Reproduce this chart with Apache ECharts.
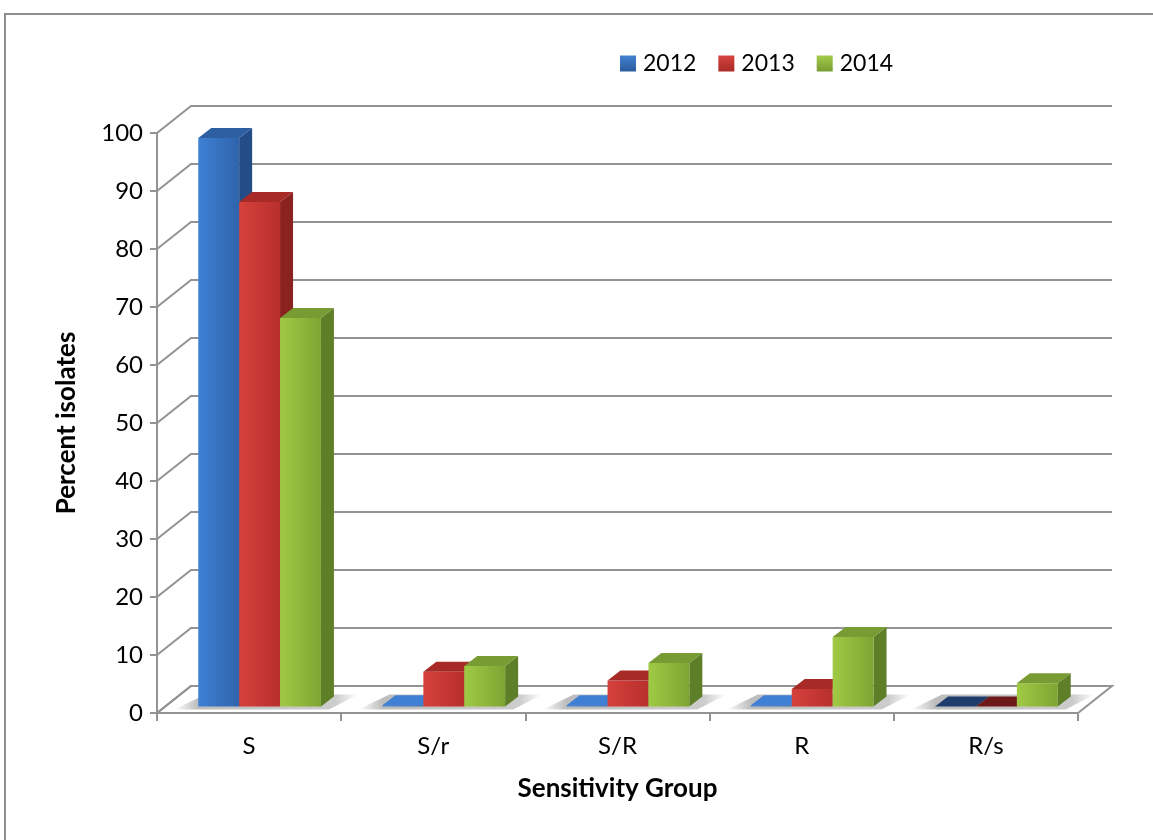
<!DOCTYPE html>
<html>
<head>
<meta charset="utf-8">
<script src="https://cdn.jsdelivr.net/npm/echarts@6/dist/echarts.min.js"></script>
<style>
  html, body { margin: 0; padding: 0; background: #fff; }
  #chart { width: 1153px; height: 840px; }
</style>
</head>
<body>
<div id="chart"></div>
<script>
// Sensitivity groups and percent of isolates per year
const categories = ['S', 'S/r', 'S/R', 'R', 'R/s'];
const years = ['2012', '2013', '2014'];
const pct2012 = [98, 0.2, 0.2, 0.2, 0];
const pct2013 = [87, 6, 4.5, 3, 0];
const pct2014 = [67, 7, 7.5, 12, 4];
const yTicks = [0, 10, 20, 30, 40, 50, 60, 70, 80, 90, 100];

// Oblique 3D projection offsets (pixels)
const WALL_DX = 34, WALL_DY = -27;      // full floor depth
const BAR_SHIFT_X = 10.5, BAR_LIFT = 6.5; // bars sit slightly back on the floor
const BAR_DX = 13, BAR_DY = -10;        // bar depth
const BAR_FRAC = 0.222;                 // bar width as fraction of category band

const FONT = 'Lato, "Open Sans", sans-serif';
const GRID_COLOR = '#939393';

const palette = [
  { front: ['#3f80d4', '#2e64ac'], top: '#2d5fa2', side: '#244d87', zero: '#1f3d6c', legend: ['#4282d2', '#2a5b9c'] },
  { front: ['#d6413c', '#b72f2c'], top: '#a82a27', side: '#8a2220', zero: '#6d1917', legend: ['#d8443f', '#a82b28'] },
  { front: ['#a0ca44', '#7ea533'], top: '#789b33', side: '#5e7e27', zero: '#4c6620', legend: ['#a3cb49', '#789c33'] }
];

function lin(x0, y0, x1, y1, c0, c1) {
  return new echarts.graphic.LinearGradient(x0, y0, x1, y1, [
    { offset: 0, color: c0 }, { offset: 1, color: c1 }
  ]);
}

// Floor of the 3D plot area
function renderFloor(params, api) {
  const cs = params.coordSys;
  const y0 = api.coord([0, 0])[1];
  const l = cs.x, r = cs.x + cs.width;
  return {
    type: 'polygon',
    shape: { points: [[l, y0], [r, y0], [r + WALL_DX, y0 + WALL_DY], [l + WALL_DX, y0 + WALL_DY]] },
    style: { fill: '#ffffff', stroke: GRID_COLOR, lineWidth: 2 },
    z2: 0
  };
}

// Side-wall and back-wall gridlines, one per tick value
function renderGridline(params, api) {
  const cs = params.coordSys;
  const y = api.coord([0, api.value(1)])[1];
  const l = cs.x, r = cs.x + cs.width;
  return {
    type: 'polyline',
    shape: { points: [[l, y], [l + WALL_DX, y + WALL_DY], [r + WALL_DX, y + WALL_DY]] },
    style: { stroke: GRID_COLOR, lineWidth: 2, fill: null },
    z2: 1
  };
}

// Soft floor shadow under each group of bars
function renderShadow(params, api) {
  const ci = api.value(0);
  const base = api.coord([ci, 0]);
  const band = api.size([1, 0])[0];
  const bw = band * BAR_FRAC;
  const xl = base[0] + BAR_SHIFT_X - 1.5 * bw;
  const xr = xl + 3 * bw;
  const yb = base[1] - BAR_LIFT;
  const pts = [
    [xl - 24, yb + 3], [xr + 8, yb + 3],
    [xr + BAR_DX + 24, yb + BAR_DY - 2], [xl + BAR_DX - 6, yb + BAR_DY - 2]
  ];
  return {
    type: 'polygon',
    shape: { points: pts },
    style: {
      fill: new echarts.graphic.LinearGradient(0, 0, 1, 0, [
        { offset: 0, color: 'rgba(0,0,0,0)' },
        { offset: 0.13, color: 'rgba(0,0,0,0.26)' },
        { offset: 0.88, color: 'rgba(0,0,0,0.2)' },
        { offset: 1, color: 'rgba(0,0,0,0)' }
      ])
    },
    z2: 2
  };
}

// 3D box for one bar: front face, top face and right side face
function makeBarRenderer(k) {
  const c = palette[k];
  return function (params, api) {
    const ci = api.value(0);
    const v = api.value(1);
    const base = api.coord([ci, 0]);
    const top = api.coord([ci, v]);
    const band = api.size([1, 0])[0];
    const bw = band * BAR_FRAC;
    const x0 = base[0] + BAR_SHIFT_X + (k - 1.5) * bw;
    const x1 = x0 + bw;
    const yb = base[1] - BAR_LIFT;
    const yt = top[1] - BAR_LIFT;
    const topFace = {
      type: 'polygon',
      shape: { points: [[x0, yt], [x1, yt], [x1 + BAR_DX, yt + BAR_DY], [x0 + BAR_DX, yt + BAR_DY]] },
      style: { fill: v > 0 ? (v < 0.5 ? c.front[0] : c.top) : c.zero }
    };
    if (v <= 0) {
      return { type: 'group', children: [topFace] };
    }
    return {
      type: 'group',
      children: [
        {
          type: 'polygon',
          shape: { points: [[x1, yt], [x1, yb], [x1 + BAR_DX, yb + BAR_DY], [x1 + BAR_DX, yt + BAR_DY]] },
          style: { fill: c.side }
        },
        {
          type: 'rect',
          shape: { x: x0, y: yt, width: bw, height: yb - yt },
          style: { fill: lin(0, 0, 1, 0, c.front[0], c.front[1]) }
        },
        topFace
      ]
    };
  };
}

const seriesData = [pct2012, pct2013, pct2014];

const chart = echarts.init(document.getElementById('chart'), null, { renderer: 'canvas' });

const series = [
  {
    type: 'custom', name: 'floor', silent: true, z: 1,
    renderItem: renderFloor, data: [[0, 0]], tooltip: { show: false }
  },
  {
    type: 'custom', name: 'grid', silent: true, z: 1,
    renderItem: renderGridline, data: yTicks.map(t => [0, t])
  },
  {
    type: 'custom', name: 'shadow', silent: true, z: 1,
    renderItem: renderShadow, data: categories.map((_, i) => [i, 0])
  }
];
years.forEach((yr, k) => {
  series.push({
    type: 'custom',
    name: yr,
    z: 3 + k,
    renderItem: makeBarRenderer(k),
    itemStyle: { color: lin(0, 0, 0, 1, palette[k].legend[0], palette[k].legend[1]) },
    data: seriesData[k].map((v, i) => [i, v])
  });
});

chart.setOption({
  animation: false,
  backgroundColor: '#ffffff',
  graphic: [
    // page frame: top and left edges only, the rest runs off the page
    {
      type: 'polyline',
      shape: { points: [[5, 900], [5, 14], [1160, 14]] },
      style: { fill: null, stroke: '#8e8e8e', lineWidth: 2 },
      silent: true
    }
  ],
  legend: {
    data: years,
    left: 615,
    top: 47,
    icon: 'rect',
    itemWidth: 16,
    itemHeight: 16,
    itemGap: 22,
    selectedMode: false,
    textStyle: { fontFamily: FONT, fontSize: 23, color: '#000', padding: [0, 0, 0, 2] }
  },
  grid: { left: 157, right: 75, top: 133, bottom: 127, containLabel: false },
  xAxis: {
    type: 'category',
    data: categories,
    name: 'Sensitivity Group',
    nameLocation: 'middle',
    nameGap: 63,
    nameTextStyle: { fontFamily: FONT, fontSize: 26, fontWeight: 'bold', color: '#000' },
    axisLine: { show: true, lineStyle: { color: GRID_COLOR, width: 2 } },
    axisTick: { show: true, length: 8, lineStyle: { color: GRID_COLOR, width: 2 } },
    axisLabel: { fontFamily: FONT, fontSize: 24, color: '#000', margin: 21 },
    splitLine: { show: false }
  },
  yAxis: {
    type: 'value',
    min: 0, max: 100, interval: 10,
    name: 'Percent isolates',
    nameLocation: 'middle',
    nameGap: 77,
    nameTextStyle: { fontFamily: FONT, fontSize: 26, fontWeight: 'bold', color: '#000' },
    axisLine: { show: true, lineStyle: { color: GRID_COLOR, width: 2 } },
    axisTick: { show: true, length: 7, lineStyle: { color: GRID_COLOR, width: 2 } },
    axisLabel: { fontFamily: FONT, fontSize: 24, color: '#000', margin: 14 },
    splitLine: { show: false }
  },
  series: series
});
</script>
</body>
</html>
